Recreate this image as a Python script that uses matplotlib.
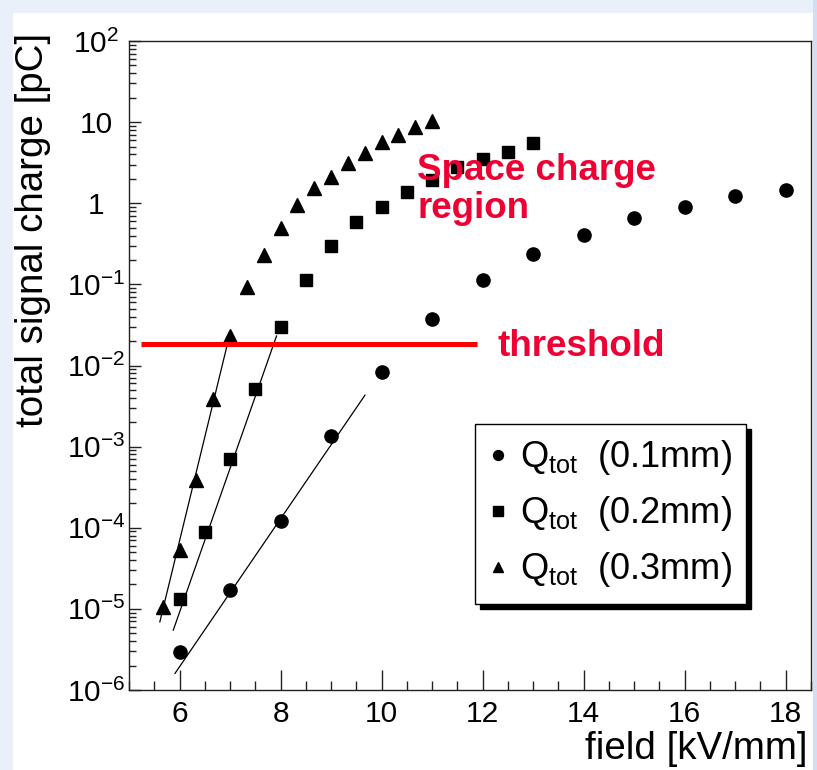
import matplotlib
matplotlib.use("Agg")
import numpy as np
import matplotlib.pyplot as plt
from matplotlib.patches import Rectangle, Shadow
from matplotlib.transforms import IdentityTransform
from matplotlib.ticker import LogLocator, NullFormatter, MultipleLocator

plt.rcParams['font.family'] = ['Liberation Sans', 'DejaVu Sans']
plt.rcParams['mathtext.fontset'] = 'custom'
plt.rcParams['mathtext.rm'] = 'Liberation Sans'
plt.rcParams['mathtext.it'] = 'Liberation Sans:italic'
plt.rcParams['mathtext.bf'] = 'Liberation Sans:bold'

# values
field_01 = [6, 7, 8, 9, 10, 11, 12, 13, 14, 15, 16, 17, 18]
charge_01 = [2.95e-6, 1.7e-5, 1.2e-4, 1.35e-3, 8.4e-3, 0.037, 0.112, 0.236,
             0.405, 0.65, 0.905, 1.23, 1.45]

field_02 = [6, 6.5, 7, 7.5, 8, 8.5, 9, 9.5, 10, 10.5, 11, 11.5, 12, 12.5, 13]
charge_02 = [1.32e-5, 8.9e-5, 7.1e-4, 5.2e-3, 0.030, 0.113, 0.30, 0.59, 0.90,
             1.36, 1.93, 2.82, 3.48, 4.31, 5.57]

field_03 = [5.67, 6, 6.33, 6.67, 7, 7.33, 7.67, 8, 8.33, 8.67, 9, 9.33, 9.67,
            10, 10.33, 10.67, 11]
charge_03 = [1.06e-5, 5.3e-5, 3.9e-4, 3.85e-3, 0.023, 0.092, 0.23, 0.50, 0.95,
             1.53, 2.12, 3.16, 4.12, 5.73, 6.93, 8.78, 10.4]

# exponential fits (end points of the drawn lines)
fit_01_x = [5.91, 9.67]
fit_01_y = [1.6e-6, 4.3e-3]
fit_02_x = [5.876, 7.92]
fit_02_y = [5.46e-6, 0.0231]
fit_03_x = [5.61, 6.98]
fit_03_y = [6.9e-6, 0.0222]

threshold_x = [5.23, 11.88]
threshold_y = 0.0184

legend_labels = [r'$\mathregular{Q_{tot}}$  (0.1mm)',
                 r'$\mathregular{Q_{tot}}$  (0.2mm)',
                 r'$\mathregular{Q_{tot}}$  (0.3mm)']

xticks = [6, 8, 10, 12, 14, 16, 18]
yticks = [1e-6, 1e-5, 1e-4, 1e-3, 1e-2, 1e-1, 1, 10, 100]
ytick_labels = [r'$\mathregular{10^{-6}}$', r'$\mathregular{10^{-5}}$',
                r'$\mathregular{10^{-4}}$', r'$\mathregular{10^{-3}}$',
                r'$\mathregular{10^{-2}}$', r'$\mathregular{10^{-1}}$',
                '1', '10', r'$\mathregular{10^{2}}$']

W, H = 817, 770
fig = plt.figure(figsize=(W / 100, H / 100), dpi=100)
fig.patch.set_facecolor('#EAF0FA')
fig.add_artist(Rectangle((13 / W, 0), 800 / W, 757 / H, transform=fig.transFigure,
                         facecolor='white', edgecolor='none', zorder=-10))
fig.add_artist(Rectangle((813 / W, 0), 4 / W, 1, transform=fig.transFigure,
                         facecolor='#D3DEF3', edgecolor='none', zorder=-10))

ax = fig.add_axes([129 / W, 80 / H, 682 / W, 649 / H])
ax.set_yscale('log')
ax.set_xlim(5, 18.5)
ax.set_ylim(1e-6, 1e2)

red = '#EE0033'

ax.plot(fit_01_x, fit_01_y, color='black', lw=0.9)
ax.plot(fit_02_x, fit_02_y, color='black', lw=0.9)
ax.plot(fit_03_x, fit_03_y, color='black', lw=0.9)

h1, = ax.plot(field_01, charge_01, 'o', color='black', ms=9.5, ls='none')
h2, = ax.plot(field_02, charge_02, 's', color='black', ms=9, ls='none')
h3, = ax.plot(field_03, charge_03, '^', color='black', ms=10, ls='none')

ax.plot(threshold_x, [threshold_y, threshold_y], color='#FF0000', lw=3.6,
        solid_capstyle='butt')

ax.text(0.4223, 0.7858, 'Space charge', transform=ax.transAxes, color=red,
        fontsize=26.5, fontweight='bold', va='baseline', ha='left', zorder=6)
ax.text(0.4223, 0.7273, 'region', transform=ax.transAxes, color=red,
        fontsize=26.5, fontweight='bold', va='baseline', ha='left', zorder=6)
ax.text(0.5396, 0.5146, 'threshold', transform=ax.transAxes, color=red,
        fontsize=26.5, fontweight='bold', va='baseline', ha='left', zorder=6)

# axes / ticks
for sp in ax.spines.values():
    sp.set_linewidth(1.0)
    sp.set_color('#222222')

ax.set_xticks(xticks, [str(t) for t in xticks])
ax.xaxis.set_minor_locator(MultipleLocator(0.5))
ax.set_yticks(yticks, ytick_labels, ha='center')
ax.yaxis.set_minor_locator(LogLocator(base=10, subs=np.arange(2, 10), numticks=20))
ax.yaxis.set_minor_formatter(NullFormatter())

ax.tick_params(which='both', direction='in', top=False, right=False,
               width=1.0, color='#222222', labelsize=21.5)
ax.tick_params(axis='x', which='major', length=14.4, pad=7)
ax.tick_params(axis='x', which='minor', length=6.5)
ax.tick_params(axis='y', which='major', length=8.6, pad=23.4)
ax.tick_params(axis='y', which='minor', length=5)

ax.set_xlabel('field [kV/mm]', fontsize=27.7)
ax.xaxis.set_label_coords(0.9956, -0.091)
ax.xaxis.label.set_ha('right')
ax.xaxis.label.set_va('center')

ax.set_ylabel('total signal charge [pC]', fontsize=27.7)
ax.yaxis.set_label_coords(-0.141, 1.012)
ax.yaxis.label.set_ha('right')
ax.yaxis.label.set_va('center')

leg = ax.legend([h1, h2, h3], legend_labels, loc='upper left',
                bbox_to_anchor=(0.507, 0.41), borderaxespad=0, fontsize=26,
                frameon=True, fancybox=False, edgecolor='black', framealpha=1,
                handlelength=0.5, handletextpad=0.35, borderpad=0.4,
                labelspacing=0.47, markerscale=0.75)
leg.get_frame().set_linewidth(1.0)

fig.canvas.draw()
sh = Shadow(leg.legendPatch, 3.6, -3.6, color='black', alpha=1)
sh.set_transform(IdentityTransform())
sh.set_zorder(leg.get_zorder() - 0.01)
ax.add_artist(sh)

fig.savefig('out.png', dpi=100, facecolor=fig.get_facecolor())
